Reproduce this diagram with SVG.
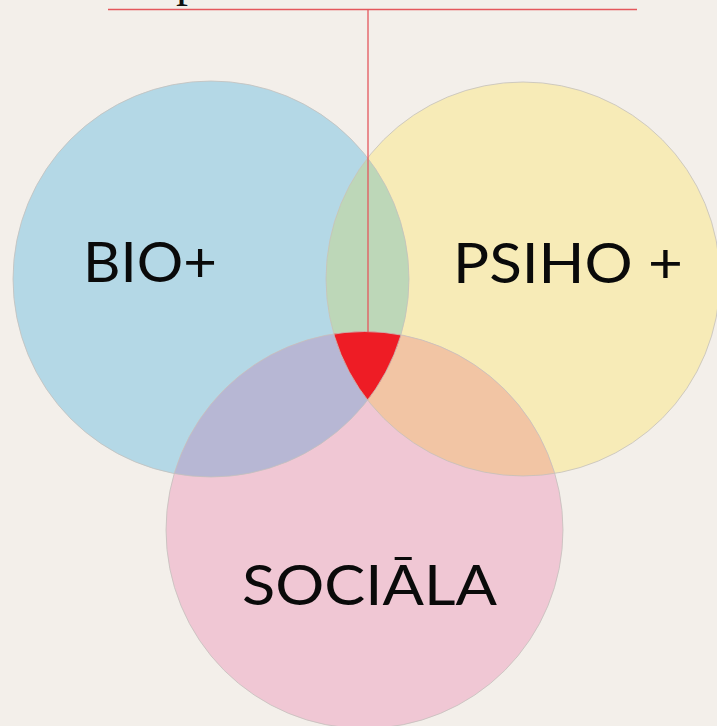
<svg xmlns="http://www.w3.org/2000/svg" width="717" height="726" viewBox="0 0 717 726">
  <defs>
    <clipPath id="clipBlue"><circle cx="211" cy="279" r="198"/></clipPath>
    <clipPath id="clipYellow"><circle cx="523" cy="279" r="197"/></clipPath>
    <style>
      .outline { fill: none; stroke: #c4c0bc; stroke-width: 0.8; }
      .label { font-family: Lato, "Open Sans", "Liberation Sans", sans-serif; font-size: 56px; fill: #0a0a0a; }
      .conn { stroke: #e4575c; stroke-width: 1.3; fill: none; }
    </style>
  </defs>
  <rect width="717" height="726" fill="#f3efea"/>
  <text x="176" y="-4.5" font-family="'Liberation Serif', serif" font-size="48" fill="#111">p</text>

  <g id="bio">
    <circle cx="211" cy="279" r="198" fill="#b4d8e6"/>
  </g>
  <g id="psiho">
    <circle cx="523" cy="279" r="197" fill="#f7ebb7"/>
  </g>
  <g id="sociala">
    <circle cx="364.5" cy="530" r="198.5" fill="#f0c7d4"/>
  </g>
  <g id="overlaps">
    <circle cx="523" cy="279" r="197" fill="#bdd7b8" clip-path="url(#clipBlue)"/>
    <circle cx="364.5" cy="530" r="198.5" fill="#b7b7d4" clip-path="url(#clipBlue)"/>
    <circle cx="364.5" cy="530" r="198.5" fill="#f2c5a4" clip-path="url(#clipYellow)"/>
    <g clip-path="url(#clipYellow)">
      <circle cx="364.5" cy="530" r="198.5" fill="#ee1c25" clip-path="url(#clipBlue)"/>
    </g>
  </g>
  <g id="outlines">
    <circle class="outline" cx="211" cy="279" r="198"/>
    <circle class="outline" cx="523" cy="279" r="197"/>
    <circle class="outline" cx="364.5" cy="530" r="198.5"/>
  </g>
  <g id="labels">
    <text class="label" x="83" y="282" textLength="134" lengthAdjust="spacingAndGlyphs">BIO+</text>
    <text class="label" x="453" y="283" textLength="230" lengthAdjust="spacingAndGlyphs">PSIHO +</text>
    <text class="label" x="242" y="605" textLength="255" lengthAdjust="spacingAndGlyphs">SOCIĀLA</text>
  </g>
  <g id="connectors">
    <line class="conn" x1="108" y1="9.5" x2="637" y2="9.5"/>
    <line class="conn" x1="368" y1="9.5" x2="368" y2="332"/>
  </g>
</svg>
